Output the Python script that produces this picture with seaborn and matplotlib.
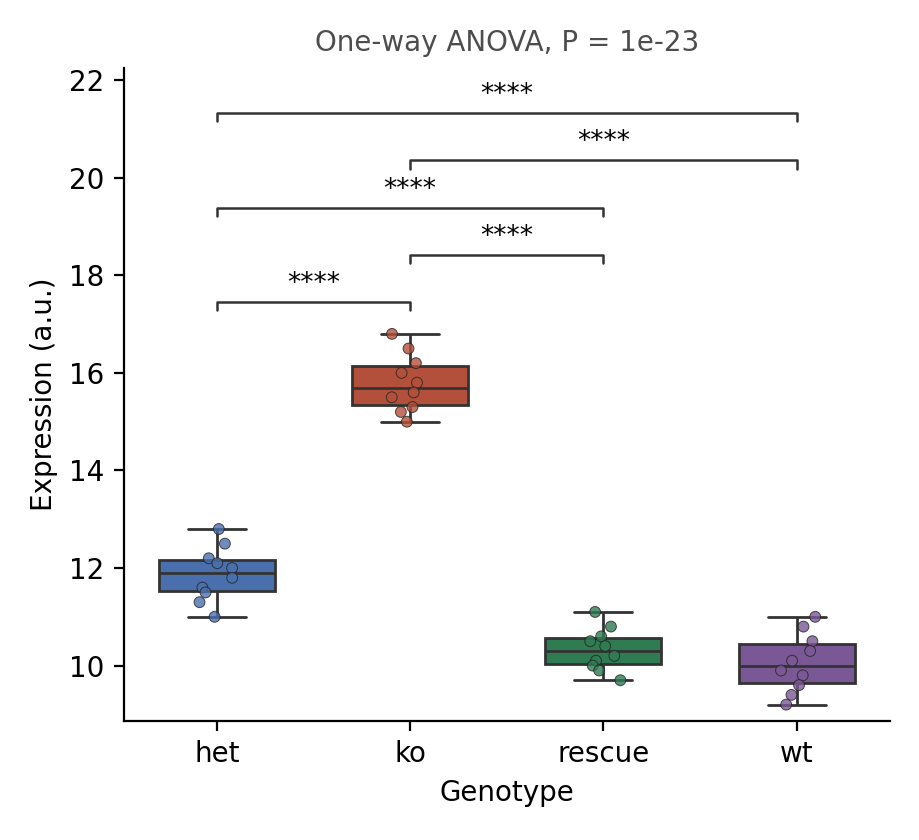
import numpy as np
import pandas as pd
import matplotlib
matplotlib.use("Agg")
import matplotlib.pyplot as plt
import seaborn as sns

genotypes = ["het", "ko", "rescue", "wt"]
het = [12.8, 12.5, 12.2, 12.1, 12.0, 11.8, 11.6, 11.5, 11.3, 11.0]
ko = [16.8, 16.5, 16.2, 16.0, 15.8, 15.6, 15.5, 15.3, 15.2, 15.0]
rescue = [11.1, 10.8, 10.6, 10.5, 10.4, 10.2, 10.1, 10.0, 9.9, 9.7]
wt = [11.0, 10.8, 10.5, 10.3, 10.1, 9.9, 9.8, 9.6, 9.4, 9.2]
colors = ["#4a6fad", "#b3503b", "#2f7b52", "#7a5895"]

# pairwise comparisons: (group a, group b, label)
pairs = [("het", "ko", "****"), ("ko", "rescue", "****"), ("het", "rescue", "****"),
         ("ko", "wt", "****"), ("het", "wt", "****")]
anova_title = "One-way ANOVA, P = 1e-23"

df = pd.DataFrame({
    "Genotype": np.repeat(genotypes, 10),
    "Expression": het + ko + rescue + wt,
})
pal = dict(zip(genotypes, colors))

sns.set_style("ticks", {"axes.edgecolor": "black", "text.color": "black",
                        "xtick.color": "black", "ytick.color": "black",
                        "axes.labelcolor": "black"})
plt.rcParams["font.family"] = ["DejaVu Sans"]

fig = plt.figure(figsize=(4.595, 4.2), dpi=200)
ax = fig.add_axes([0.135, 0.142, 0.833, 0.777])

sns.boxplot(data=df, x="Genotype", y="Expression", hue="Genotype", palette=pal,
            width=0.6, saturation=1, linecolor="#333333", linewidth=1.0,
            fliersize=0, legend=False, ax=ax)
np.random.seed(3)
sns.stripplot(data=df, x="Genotype", y="Expression", hue="Genotype", palette=pal,
              jitter=0.1, size=3.9, edgecolor="#222222", linewidth=0.35, alpha=0.8,
              legend=False, ax=ax)

pos = {g: i for i, g in enumerate(genotypes)}
top = max(max(het), max(ko), max(rescue), max(wt))
step = 0.97
for k, (a, b, lab) in enumerate(pairs):
    y = top + 0.65 + k * step
    x1, x2 = pos[a], pos[b]
    ax.plot([x1, x1, x2, x2], [y - 0.17, y, y, y - 0.17], color="#333333", lw=0.9)
    ax.text((x1 + x2) / 2, y + 0.1, lab, ha="center", va="bottom", fontsize=9.5)

ax.set_ylim(8.87, 22.25)
ax.set_yticks([10, 12, 14, 16, 18, 20, 22])
ax.tick_params(labelsize=10, width=0.8)
ax.set_xlabel("Genotype", fontsize=10)
ax.set_ylabel("Expression (a.u.)", fontsize=10)
ax.set_title(anova_title, fontsize=10, color="#4d4d4d", pad=6)
for s in ax.spines.values():
    s.set_linewidth(0.8)
sns.despine(ax=ax)

fig.savefig("out.png", dpi=200)
